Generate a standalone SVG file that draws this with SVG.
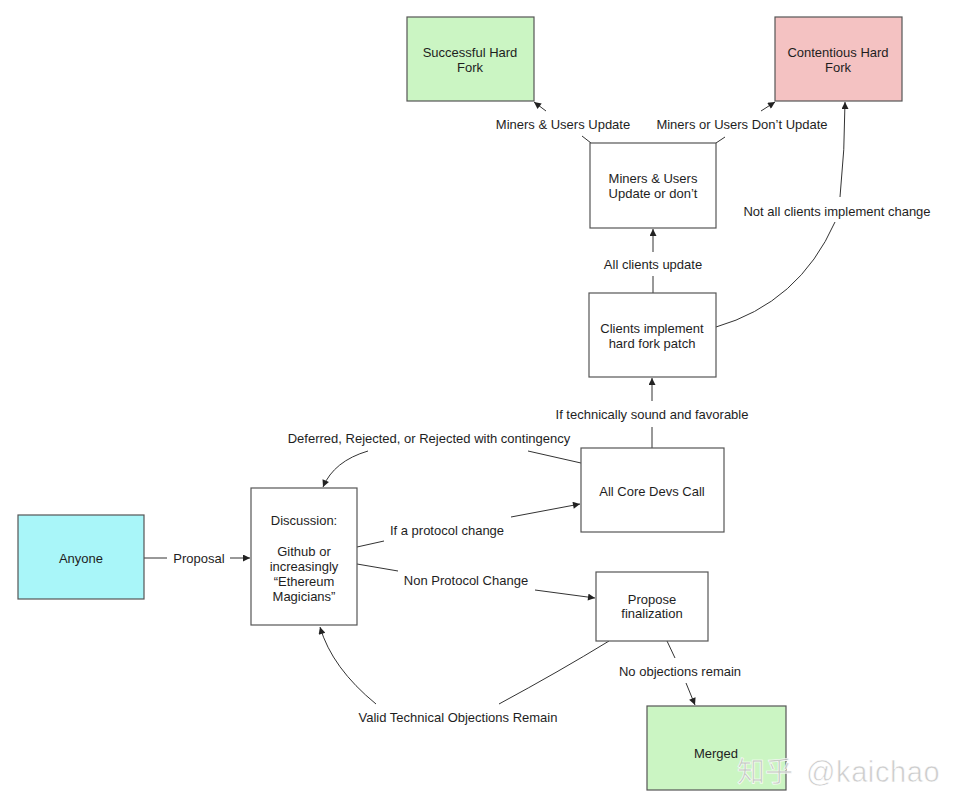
<svg xmlns="http://www.w3.org/2000/svg" width="960" height="812" viewBox="0 0 960 812">
<style>
  .box { stroke: #555; stroke-width: 1.2; }
  .plain { fill: #ffffff; }
  .green { fill: #cbf5c3; }
  .pink { fill: #f4c2c2; }
  .cyan { fill: #a9f6f9; }
  text { font-family: "Liberation Sans", Arial, Helvetica, sans-serif; font-size: 13px; fill: #1e1e1e; text-anchor: middle; }
  .edge { fill: none; stroke: #333; stroke-width: 1; }
  .wm { font-size: 28px; fill: #c4c4c4; fill-opacity: 0.85; stroke: #ffffff; stroke-width: 0.6; text-anchor: start; font-family: "Liberation Sans", "Noto Sans CJK SC", sans-serif; }
</style>
<defs>
  <marker id="arr" viewBox="0 0 10 10" refX="10" refY="5" markerWidth="9" markerHeight="7" markerUnits="userSpaceOnUse" orient="auto">
    <path d="M0,0 L10,5 L0,10 z" fill="#222"/>
  </marker>
</defs>
<rect width="960" height="812" fill="#ffffff"/>

<g id="connectors">
  <line class="edge" x1="144" y1="558" x2="167" y2="558"/>
  <line class="edge" x1="230" y1="558" x2="250" y2="558" marker-end="url(#arr)"/>
  <line class="edge" x1="357" y1="547" x2="384" y2="541"/>
  <line class="edge" x1="511" y1="517" x2="580" y2="504" marker-end="url(#arr)"/>
  <line class="edge" x1="357" y1="564" x2="398" y2="571"/>
  <line class="edge" x1="535" y1="590" x2="595" y2="598" marker-end="url(#arr)"/>
  <line class="edge" x1="581" y1="463" x2="528" y2="451"/>
  <path class="edge" d="M368,451 Q334,461 323,487" marker-end="url(#arr)"/>
  <line class="edge" x1="652" y1="448" x2="652" y2="427"/>
  <line class="edge" x1="652" y1="401" x2="652" y2="378" marker-end="url(#arr)"/>
  <line class="edge" x1="653" y1="293" x2="653" y2="276"/>
  <line class="edge" x1="653" y1="252" x2="653" y2="229" marker-end="url(#arr)"/>
  <line class="edge" x1="591" y1="143" x2="582" y2="136"/>
  <line class="edge" x1="546" y1="111" x2="534" y2="102" marker-end="url(#arr)"/>
  <line class="edge" x1="716" y1="143" x2="725" y2="137"/>
  <line class="edge" x1="761" y1="111" x2="775" y2="102" marker-end="url(#arr)"/>
  <path class="edge" d="M716,327 Q799,303 835,222"/>
  <path class="edge" d="M840,197 Q845,150 845,102" marker-end="url(#arr)"/>
  <line class="edge" x1="667" y1="641" x2="675" y2="658"/>
  <line class="edge" x1="686" y1="683" x2="695" y2="705" marker-end="url(#arr)"/>
  <path class="edge" d="M609,641 Q560,671 499,704"/>
  <path class="edge" d="M376,704 Q332,668 320,627" marker-end="url(#arr)"/>
</g>

<g id="edge-labels">
  <text x="199" y="562.5">Proposal</text>
  <text x="447" y="534.5">If a protocol change</text>
  <text x="466" y="585">Non Protocol Change</text>
  <text x="429" y="442.5">Deferred, Rejected, or Rejected with contingency</text>
  <text x="652" y="418.5">If technically sound and favorable</text>
  <text x="653" y="268.5">All clients update</text>
  <text x="563" y="128.5">Miners &amp; Users Update</text>
  <text x="742" y="128.5">Miners or Users Don’t Update</text>
  <text x="837" y="215.5">Not all clients implement change</text>
  <text x="680" y="675.5">No objections remain</text>
  <text x="458" y="721.5">Valid Technical Objections Remain</text>
</g>

<g id="node-anyone">
  <rect class="box cyan" x="18" y="515" width="126" height="84"/>
  <text x="81" y="562.5">Anyone</text>
</g>
<g id="node-discussion">
  <rect class="box plain" x="251" y="488" width="106" height="137"/>
  <text x="304" y="524.5">Discussion:</text>
  <text x="304" y="555.5">Github or</text>
  <text x="304" y="570.5">increasingly</text>
  <text x="304" y="585.5">“Ethereum</text>
  <text x="304" y="600.5">Magicians”</text>
</g>
<g id="node-coredevs">
  <rect class="box plain" x="581" y="448" width="143" height="84"/>
  <text x="652" y="495.5">All Core Devs Call</text>
</g>
<g id="node-propose">
  <rect class="box plain" x="596" y="572" width="112" height="69"/>
  <text x="652" y="603.5">Propose</text>
  <text x="652" y="617.5">finalization</text>
</g>
<g id="node-merged">
  <rect class="box green" x="647" y="706" width="139" height="84"/>
  <text x="716" y="757.5">Merged</text>
</g>
<g id="node-clients">
  <rect class="box plain" x="589" y="293" width="127" height="84"/>
  <text x="652" y="332.5">Clients implement</text>
  <text x="652" y="347.5">hard fork patch</text>
</g>
<g id="node-miners">
  <rect class="box plain" x="590" y="143" width="126" height="85"/>
  <text x="653" y="182.5">Miners &amp; Users</text>
  <text x="653" y="197.5">Update or don’t</text>
</g>
<g id="node-successful">
  <rect class="box green" x="407" y="17" width="127" height="84"/>
  <text x="470" y="56.5">Successful Hard</text>
  <text x="470" y="72">Fork</text>
</g>
<g id="node-contentious">
  <rect class="box pink" x="775" y="17" width="127" height="84"/>
  <text x="838" y="56.5">Contentious Hard</text>
  <text x="838" y="72">Fork</text>
</g>

<g id="watermark">
  <text class="wm" x="737" y="782">知乎</text>
  <text class="wm" x="806" y="782" style="font-size:29px;letter-spacing:0.6px">@kaichao</text>
</g>
</svg>
